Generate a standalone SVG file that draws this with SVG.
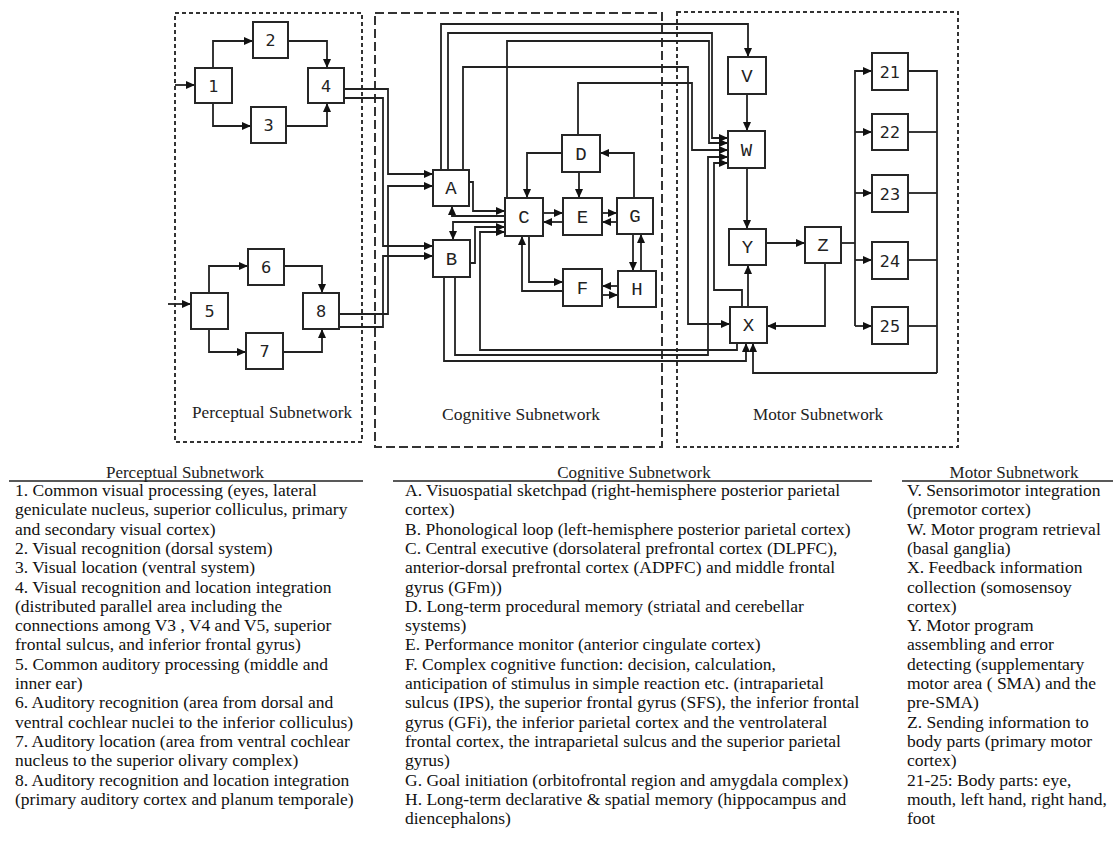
<svg xmlns="http://www.w3.org/2000/svg" width="1115" height="846" viewBox="0 0 1115 846">
<style>
.bx{fill:#fff;stroke:#262626;stroke-width:2}
.lb{font-family:"Liberation Mono","DejaVu Sans Mono",monospace;font-size:19px;fill:#222;text-anchor:middle}
.nb{font-family:"DejaVu Sans","Liberation Sans",sans-serif;font-size:16px;fill:#222;text-anchor:middle}
.c path{fill:none;stroke:#222;stroke-width:1.8;marker-end:url(#ah)}
.c path.n{marker-end:none}
.pl{font-family:"Liberation Serif","Times New Roman",serif;font-size:17px;fill:#222;text-anchor:middle}
.tx{font-family:"Liberation Serif","Times New Roman",serif;font-size:17.5px;fill:#111}
.dd{fill:none;stroke:#333;stroke-width:2}
</style>
<defs>
<marker id="ah" markerUnits="userSpaceOnUse" markerWidth="10" markerHeight="9" refX="9" refY="4" orient="auto">
<path d="M0,0 L9,4 L0,8 z" fill="#111"/>
</marker>
</defs>
<rect width="1115" height="846" fill="#fff"/>
<g id="panels">
<rect class="dd" x="175" y="13" width="187" height="429" stroke-dasharray="4 3"/>
<rect class="dd" x="375" y="13" width="287" height="434" stroke-dasharray="9 4"/>
<rect class="dd" x="677" y="12" width="281" height="435" stroke-dasharray="4 3"/>
<text class="pl" x="272" y="418" textLength="160" lengthAdjust="spacingAndGlyphs">Perceptual Subnetwork</text>
<text class="pl" x="521" y="420" textLength="158" lengthAdjust="spacingAndGlyphs">Cognitive Subnetwork</text>
<text class="pl" x="818" y="420" textLength="130" lengthAdjust="spacingAndGlyphs">Motor Subnetwork</text>
</g>
<g id="connectors" class="c">
<path d="M175,85 H195"/>
<path d="M213,68 V41 H253"/>
<path d="M288,41 H327 V68"/>
<path d="M213,103 V126 H251"/>
<path d="M286,126 H327 V103"/>
<path d="M168,304 H191"/>
<path d="M209,293 V266 H248"/>
<path d="M284,266 H322 V293"/>
<path d="M209,329 V352 H246"/>
<path d="M283,352 H322 V329"/>
<path d="M344,89 H388 V174 H433"/>
<path d="M344,98 H383 V246 H433"/>
<path d="M339,314 H388 V186 H433"/>
<path d="M339,327 H383 V256 H433"/>
<path d="M469,182 H473 V211 H505"/>
<path d="M505,216 H452 V206"/>
<path d="M505,222 H453 V240"/>
<path d="M470,263 H475 V227 H505"/>
<path d="M737,343 V350 H480 V232 H505"/>
<path d="M562,153 H527 V198"/>
<path d="M579,172 V198"/>
<path d="M634,198 V153 H600"/>
<path d="M543,213 H563"/>
<path d="M563,222 H543"/>
<path d="M602,213 H617"/>
<path d="M617,222 H602"/>
<path d="M633,234 V271"/>
<path d="M641,271 V234"/>
<path d="M529,236 V282 H563"/>
<path d="M563,291 H522 V236"/>
<path d="M618,286 H602"/>
<path d="M602,295 H618"/>
<path d="M441,170 V24 H748 V57"/>
<path d="M448,170 V33 H712 V138 H728"/>
<path d="M507,198 V41 H709 V143 H728"/>
<path d="M463,170 V67 H688 V324 H730"/>
<path d="M578,135 V83 H692 V150 H728"/>
<path d="M455,277 V355 H708 V157 H728"/>
<path d="M444,277 V361 H746 V343"/>
<path d="M742,307 V290 H714 V163 H728"/>
<path d="M747,94 V131"/>
<path d="M747,168 V229"/>
<path d="M748,307 V265"/>
<path d="M766,243 H805"/>
<path d="M825,263 V326 H767"/>
<path class="n" d="M841,243 H855"/>
<path class="n" d="M872,71 H855 V326"/>
<path d="M855,71 H872"/>
<path d="M855,132 H872"/>
<path d="M855,193 H872"/>
<path d="M855,260 H872"/>
<path d="M855,326 H872"/>
<path class="n" d="M908,71 H937 V373"/>
<path class="n" d="M908,132 H937"/>
<path class="n" d="M908,193 H937"/>
<path class="n" d="M908,260 H937"/>
<path class="n" d="M908,326 H937"/>
<path d="M937,373 H753 V343"/>
</g>
<g id="n1"><rect class="bx" x="195" y="68" width="37" height="35"/><text class="nb" x="213.5" y="91.5">1</text></g>
<g id="n2"><rect class="bx" x="253" y="22" width="35" height="36"/><text class="nb" x="270.5" y="46">2</text></g>
<g id="n3"><rect class="bx" x="251" y="107" width="35" height="36"/><text class="nb" x="268.5" y="131">3</text></g>
<g id="n4"><rect class="bx" x="308" y="68" width="36" height="35"/><text class="nb" x="326" y="91.5">4</text></g>
<g id="n5"><rect class="bx" x="191" y="293" width="37" height="36"/><text class="nb" x="209.5" y="317">5</text></g>
<g id="n6"><rect class="bx" x="248" y="249" width="36" height="36"/><text class="nb" x="266" y="273">6</text></g>
<g id="n7"><rect class="bx" x="246" y="333" width="37" height="36"/><text class="nb" x="264.5" y="357">7</text></g>
<g id="n8"><rect class="bx" x="303" y="293" width="36" height="36"/><text class="nb" x="321" y="317">8</text></g>
<g id="nA"><rect class="bx" x="433" y="170" width="36" height="36"/><text class="lb" x="451" y="194">A</text></g>
<g id="nB"><rect class="bx" x="433" y="240" width="37" height="37"/><text class="lb" x="451.5" y="264.5">B</text></g>
<g id="nC"><rect class="bx" x="505" y="198" width="38" height="38"/><text class="lb" x="524" y="223">C</text></g>
<g id="nD"><rect class="bx" x="562" y="135" width="38" height="37"/><text class="lb" x="581" y="159.5">D</text></g>
<g id="nE"><rect class="bx" x="563" y="198" width="39" height="37"/><text class="lb" x="582.5" y="222.5">E</text></g>
<g id="nF"><rect class="bx" x="563" y="269" width="39" height="37"/><text class="lb" x="582.5" y="293.5">F</text></g>
<g id="nG"><rect class="bx" x="617" y="198" width="36" height="36"/><text class="lb" x="635" y="222">G</text></g>
<g id="nH"><rect class="bx" x="618" y="271" width="38" height="36"/><text class="lb" x="637" y="295">H</text></g>
<g id="nV"><rect class="bx" x="728" y="57" width="38" height="37"/><text class="lb" x="747" y="81.5">V</text></g>
<g id="nW"><rect class="bx" x="728" y="131" width="37" height="37"/><text class="lb" x="746.5" y="155.5">W</text></g>
<g id="nX"><rect class="bx" x="730" y="307" width="37" height="36"/><text class="lb" x="748.5" y="331">X</text></g>
<g id="nY"><rect class="bx" x="729" y="229" width="37" height="36"/><text class="lb" x="747.5" y="253">Y</text></g>
<g id="nZ"><rect class="bx" x="805" y="227" width="36" height="36"/><text class="lb" x="823" y="251">Z</text></g>
<g id="n21"><rect class="bx" x="872" y="53" width="36" height="37"/><text class="nb" x="890" y="77.5">21</text></g>
<g id="n22"><rect class="bx" x="872" y="114" width="36" height="36"/><text class="nb" x="890" y="138">22</text></g>
<g id="n23"><rect class="bx" x="872" y="175" width="36" height="37"/><text class="nb" x="890" y="199.5">23</text></g>
<g id="n24"><rect class="bx" x="872" y="242" width="36" height="37"/><text class="nb" x="890" y="266.5">24</text></g>
<g id="n25"><rect class="bx" x="872" y="307" width="36" height="37"/><text class="nb" x="890" y="331.5">25</text></g>
<g id="legend-perceptual">
<text class="pl" x="185" y="478" font-size="17.5">Perceptual Subnetwork</text>
<line x1="9" y1="481" x2="363" y2="481" stroke="#222" stroke-width="1.3"/>
<text class="tx" x="15" y="496">1. Common visual processing (eyes, lateral</text>
<text class="tx" x="15" y="515.3">geniculate nucleus, superior colliculus, primary</text>
<text class="tx" x="15" y="534.6">and secondary visual cortex)</text>
<text class="tx" x="15" y="553.9">2. Visual recognition (dorsal system)</text>
<text class="tx" x="15" y="573.2">3. Visual location (ventral system)</text>
<text class="tx" x="15" y="592.5">4. Visual recognition and location integration</text>
<text class="tx" x="15" y="611.8">(distributed parallel area including the</text>
<text class="tx" x="15" y="631.1">connections among V3 , V4 and V5, superior</text>
<text class="tx" x="15" y="650.4">frontal sulcus, and inferior frontal gyrus)</text>
<text class="tx" x="15" y="669.7">5. Common auditory processing (middle and</text>
<text class="tx" x="15" y="689">inner ear)</text>
<text class="tx" x="15" y="708.3">6. Auditory recognition (area from dorsal and</text>
<text class="tx" x="15" y="727.6">ventral cochlear nuclei to the inferior colliculus)</text>
<text class="tx" x="15" y="746.9">7. Auditory location (area from ventral cochlear</text>
<text class="tx" x="15" y="766.2">nucleus to the superior olivary complex)</text>
<text class="tx" x="15" y="785.5">8. Auditory recognition and location integration</text>
<text class="tx" x="15" y="804.8">(primary auditory cortex and planum temporale)</text>
</g>
<g id="legend-cognitive">
<text class="pl" x="634" y="478" font-size="17.5">Cognitive Subnetwork</text>
<line x1="393" y1="481" x2="872" y2="481" stroke="#222" stroke-width="1.3"/>
<text class="tx" x="405" y="496">A. Visuospatial sketchpad (right-hemisphere posterior parietal</text>
<text class="tx" x="405" y="515.3">cortex)</text>
<text class="tx" x="405" y="534.6">B. Phonological loop (left-hemisphere posterior parietal cortex)</text>
<text class="tx" x="405" y="553.9">C. Central executive (dorsolateral prefrontal cortex (DLPFC),</text>
<text class="tx" x="405" y="573.2">anterior-dorsal prefrontal cortex (ADPFC) and middle frontal</text>
<text class="tx" x="405" y="592.5">gyrus (GFm))</text>
<text class="tx" x="405" y="611.8">D. Long-term procedural memory (striatal and cerebellar</text>
<text class="tx" x="405" y="631.1">systems)</text>
<text class="tx" x="405" y="650.4">E. Performance monitor (anterior cingulate cortex)</text>
<text class="tx" x="405" y="669.7">F. Complex cognitive function: decision, calculation,</text>
<text class="tx" x="405" y="689">anticipation of stimulus in simple reaction etc. (intraparietal</text>
<text class="tx" x="405" y="708.3">sulcus (IPS), the superior frontal gyrus (SFS), the inferior frontal</text>
<text class="tx" x="405" y="727.6">gyrus (GFi), the inferior parietal cortex and the ventrolateral</text>
<text class="tx" x="405" y="746.9">frontal cortex, the intraparietal sulcus and the superior parietal</text>
<text class="tx" x="405" y="766.2">gyrus)</text>
<text class="tx" x="405" y="785.5">G. Goal initiation (orbitofrontal region and amygdala complex)</text>
<text class="tx" x="405" y="804.8">H. Long-term declarative &amp; spatial memory (hippocampus and</text>
<text class="tx" x="405" y="824.1">diencephalons)</text>
</g>
<g id="legend-motor">
<text class="pl" x="1014" y="478" font-size="17.5">Motor Subnetwork</text>
<line x1="902" y1="481" x2="1113" y2="481" stroke="#222" stroke-width="1.3"/>
<text class="tx" x="907" y="496">V. Sensorimotor integration</text>
<text class="tx" x="907" y="515.3">(premotor cortex)</text>
<text class="tx" x="907" y="534.6">W. Motor program retrieval</text>
<text class="tx" x="907" y="553.9">(basal ganglia)</text>
<text class="tx" x="907" y="573.2">X. Feedback information</text>
<text class="tx" x="907" y="592.5">collection (somosensoy</text>
<text class="tx" x="907" y="611.8">cortex)</text>
<text class="tx" x="907" y="631.1">Y. Motor program</text>
<text class="tx" x="907" y="650.4">assembling and error</text>
<text class="tx" x="907" y="669.7">detecting (supplementary</text>
<text class="tx" x="907" y="689">motor area ( SMA) and the</text>
<text class="tx" x="907" y="708.3">pre-SMA)</text>
<text class="tx" x="907" y="727.6">Z. Sending information to</text>
<text class="tx" x="907" y="746.9">body parts (primary motor</text>
<text class="tx" x="907" y="766.2">cortex)</text>
<text class="tx" x="907" y="785.5">21-25: Body parts: eye,</text>
<text class="tx" x="907" y="804.8">mouth, left hand, right hand,</text>
<text class="tx" x="907" y="824.1">foot</text>
</g>
</svg>
